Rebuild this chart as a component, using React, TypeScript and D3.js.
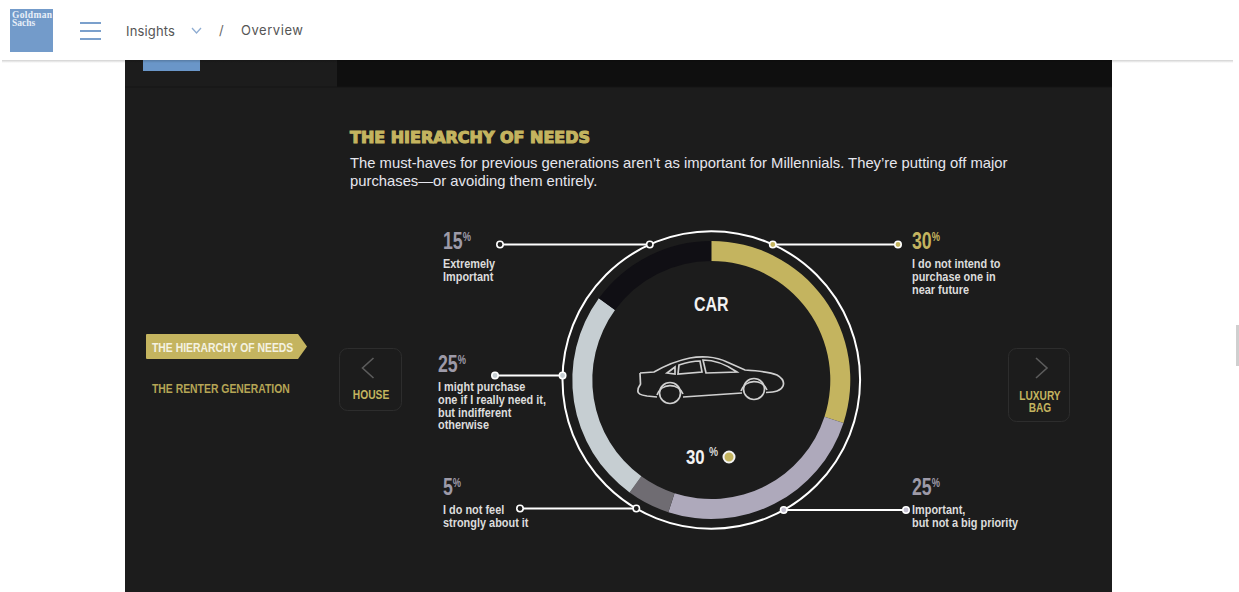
import React from "react";
import * as d3 from "d3";

// Survey shares, clockwise from twelve o'clock
const shares = [30, 25, 5, 25, 15];
const shareColors = ["#c4b45f", "#aea9bb", "#6f6c72", "#c6ced2", "#100f14"];
const shareNumberColors = ["#c4b45f", "#9d9aa8", "#9d9aa8", "#9d9aa8", "#9d9aa8"];
const dotFills = ["#c4b45f", "#c5c1d2", "#1c1c1c", "#c6ced2", "#1c1c1c"];
const descriptions = [
  ["I do not intend to", "purchase one in", "near future"],
  ["Important,", "but not a big priority"],
  ["I do not feel", "strongly about it"],
  ["I might purchase", "one if I really need it,", "but indifferent", "otherwise"],
  ["Extremely", "Important"],
];
// Leader height, its outer end, text column and baselines for each share
const leaderY = [244.5, 510, 508.5, 375.5, 244.5];
const leaderEndX = [898, 906, 520, 495, 500];
const textX = [912, 912, 443, 438, 443];
const numberY = [249, 495, 495, 372, 249];
const firstLineY = [268, 514, 514, 391, 268];

const title = "THE HIERARCHY OF NEEDS";
const introLines = [
  "The must-haves for previous generations aren\u2019t as important for Millennials. They\u2019re putting off major",
  "purchases\u2014or avoiding them entirely.",
];

const cx = 711.3;
const cy = 380;
const ringRadius = 148.8;
const sans = "'Liberation Sans', Arial, sans-serif";

const pie = d3.pie<number>().sort(null).value((d) => d);
const arc = d3.arc<d3.PieArcDatum<number>>().innerRadius(119).outerRadius(139);

// Bold sans squeezed horizontally to give the condensed look of the labels
function Narrow({
  x,
  y,
  size,
  fill,
  squeeze = 0.8,
  anchor = "start",
  children,
}: {
  x: number;
  y: number;
  size: number;
  fill: string;
  squeeze?: number;
  anchor?: string;
  children: React.ReactNode;
}) {
  return (
    <text
      transform={`translate(${x},${y}) scale(${squeeze},1)`}
      textAnchor={anchor}
      fontFamily={sans}
      fontWeight={700}
      fontSize={size}
      fill={fill}
    >
      {children}
    </text>
  );
}

function Chevron({ x, dir }: { x: number; dir: number }) {
  return (
    <path
      d={`M${x + 5.5 * dir} 358 L${x - 5.5 * dir} 368 L${x + 5.5 * dir} 378`}
      fill="none"
      stroke="#5c5c5c"
      strokeWidth={1.6}
    />
  );
}

export default function App() {
  const slices = pie(shares);
  return (
    <svg
      width={1239}
      height={592}
      style={{ position: "fixed", left: 0, top: 0, display: "block", background: "#fff" }}
    >
      <defs>
        <linearGradient id="hdrShadow" x1="0" y1="0" x2="0" y2="1">
          <stop offset="0" stopColor="#000" stopOpacity={0.18} />
          <stop offset="1" stopColor="#000" stopOpacity={0} />
        </linearGradient>
      </defs>

      {/* dark content panel */}
      <rect x={125} y={60} width={987} height={532} fill="#1c1c1c" />
      <rect x={337} y={60} width={775} height={27} fill="#0f0f0f" />
      <rect x={125} y={86.5} width={987} height={1} fill="#141414" />
      <rect x={143} y={60} width={57} height={11} fill="#6a96c8" />
      <rect x={1236} y={325} width={3} height={41} fill="#cfcfcf" />

      {/* header bar */}
      <rect x={2} y={60} width={1231} height={3} fill="url(#hdrShadow)" />
      <rect x={10} y={9} width={43} height={43} fill="#739bca" />
      <text x={12} y={18} fontFamily="'Liberation Serif', serif" fontWeight={700} fontSize={9.5} fill="#e8eff8" textLength={40}>
        Goldman
      </text>
      <text x={12} y={26} fontFamily="'Liberation Serif', serif" fontWeight={700} fontSize={9.5} fill="#e8eff8">
        Sachs
      </text>
      {[23, 31, 39].map((y) => (
        <line key={y} x1={80} x2={101} y1={y} y2={y} stroke="#7ba0cc" strokeWidth={2} />
      ))}
      <text x={126} y={36} fontFamily="Inter, Roboto, sans-serif" fontSize={13} letterSpacing={0.15} fill="#555">
        Insights
      </text>
      <path d="M192 28 L196.5 33 L201 28" fill="none" stroke="#8fadd2" strokeWidth={1.3} />
      <text x={219} y={35} fontFamily="Inter, Roboto, sans-serif" fontSize={13} fill="#666">
        /
      </text>
      <text x={241} y={35} fontFamily="Inter, Roboto, sans-serif" fontSize={13} letterSpacing={0.55} fill="#555">
        Overview
      </text>

      {/* section menu */}
      <path d="M146 335 Q146 334 147 334 L298 334 L307 346.5 L298 359 L147 359 Q146 359 146 358 Z" fill="#c4b45f" />
      <Narrow x={152} y={352} size={13} fill="#f4f2e2" squeeze={0.8}>
        THE HIERARCHY OF NEEDS
      </Narrow>
      <Narrow x={152} y={393} size={13} fill="#b5a555" squeeze={0.8}>
        THE RENTER GENERATION
      </Narrow>

      {/* previous / next buttons */}
      <rect x={339.5} y={348.5} width={62} height={62} rx={8} fill="none" stroke="#2d2d2d" />
      <Chevron x={368} dir={1} />
      <Narrow x={371} y={399} size={13.5} fill="#c4b45f" squeeze={0.76} anchor="middle">
        HOUSE
      </Narrow>
      <rect x={1008.5} y={348.5} width={61} height={73} rx={8} fill="none" stroke="#2d2d2d" />
      <Chevron x={1041.5} dir={-1} />
      <Narrow x={1040} y={400} size={13} fill="#c4b45f" squeeze={0.78} anchor="middle">
        LUXURY
      </Narrow>
      <Narrow x={1040} y={412} size={13} fill="#c4b45f" squeeze={0.78} anchor="middle">
        BAG
      </Narrow>

      {/* heading */}
      <text
        x={350}
        y={143}
        fontFamily="'DejaVu Sans', sans-serif"
        fontWeight={700}
        fontSize={15}
        fill="#c4b45f"
        stroke="#c4b45f"
        strokeWidth={1.1}
        textLength={240}
        lengthAdjust="spacingAndGlyphs"
      >
        {title}
      </text>
      {introLines.map((line, i) => (
        <text key={i} x={350} y={168 + i * 18} fontFamily={sans} fontSize={14.8} fill="#e6e6ee">
          {line}
        </text>
      ))}

      {/* donut and outer ring */}
      <circle cx={cx} cy={cy} r={ringRadius} fill="none" stroke="#fff" strokeWidth={2} />
      <g transform={`translate(${cx},${cy})`}>
        {slices.map((s, i) => (
          <path key={i} d={arc(s) ?? ""} fill={shareColors[i]} />
        ))}
      </g>

      {/* leaders and their labels */}
      {slices.map((s, i) => {
        const mid = (s.startAngle + s.endAngle) / 2;
        const side = Math.sin(mid) >= 0 ? 1 : -1;
        const dy = leaderY[i] - cy;
        const ringX = cx + side * Math.sqrt(Math.max(0, ringRadius ** 2 - dy ** 2));
        return (
          <g key={i}>
            <line x1={ringX} x2={leaderEndX[i]} y1={leaderY[i]} y2={leaderY[i]} stroke="#fff" strokeWidth={2} />
            {[ringX, leaderEndX[i]].map((x) => (
              <circle key={x} cx={x} cy={leaderY[i]} r={3.2} fill={dotFills[i]} stroke="#fff" strokeWidth={1.6} />
            ))}
            <Narrow x={textX[i]} y={numberY[i]} size={23} fill={shareNumberColors[i]} squeeze={0.77}>
              {shares[i]}
              <tspan fontSize={12} dy={-8.5}>%</tspan>
            </Narrow>
            {descriptions[i].map((line, j) => (
              <Narrow key={j} x={textX[i]} y={firstLineY[i] + j * 12.8} size={13} fill="#dcdcdc" squeeze={0.84}>
                {line}
              </Narrow>
            ))}
          </g>
        );
      })}

      {/* centre of the donut */}
      <Narrow x={cx} y={311} size={21} fill="#f2f2f2" squeeze={0.76} anchor="middle">
        CAR
      </Narrow>
      <g fill="none" stroke="#d0d0d0" strokeWidth={1.7}>
        <path d="M640 373 L654 372 C668 364 680 360 690 358 C700 356 715 356 727 362 L745 370 C760 371 770 372 777 375 C782 378 785 381 783 386 C781 391 775 392 766 392.5 M742 393 L683 397 M657 397 L647 396 C641 395 637 394 638 390 C638 387 640 386 640.5 384 L640 373" />
        <circle cx={670} cy={393} r={10.5} />
        <path d="M657 395 A14 14 0 0 1 683 394" />
        <circle cx={754} cy={389} r={10.5} />
        <path d="M741 391 A14 14 0 0 1 767 390" />
        <path d="M667 373 L675 367 L675 374 Z" />
        <path d="M678 374 L679 365 C688 362 695 361 700 361 L702 372 Z" />
        <path d="M703 360 L706 373 L737 372 C727 365 716 360 703 360 Z" />
      </g>
      <Narrow x={686} y={464} size={20} fill="#f2f2f2" squeeze={0.84}>
        {shares[0]}
      </Narrow>
      <Narrow x={709} y={456} size={12} fill="#d8d8d8" squeeze={0.85}>
        %
      </Narrow>
      <circle cx={729} cy={457} r={5.5} fill={shareColors[0]} stroke="#f2f2f2" strokeWidth={2} />
    </svg>
  );
}
